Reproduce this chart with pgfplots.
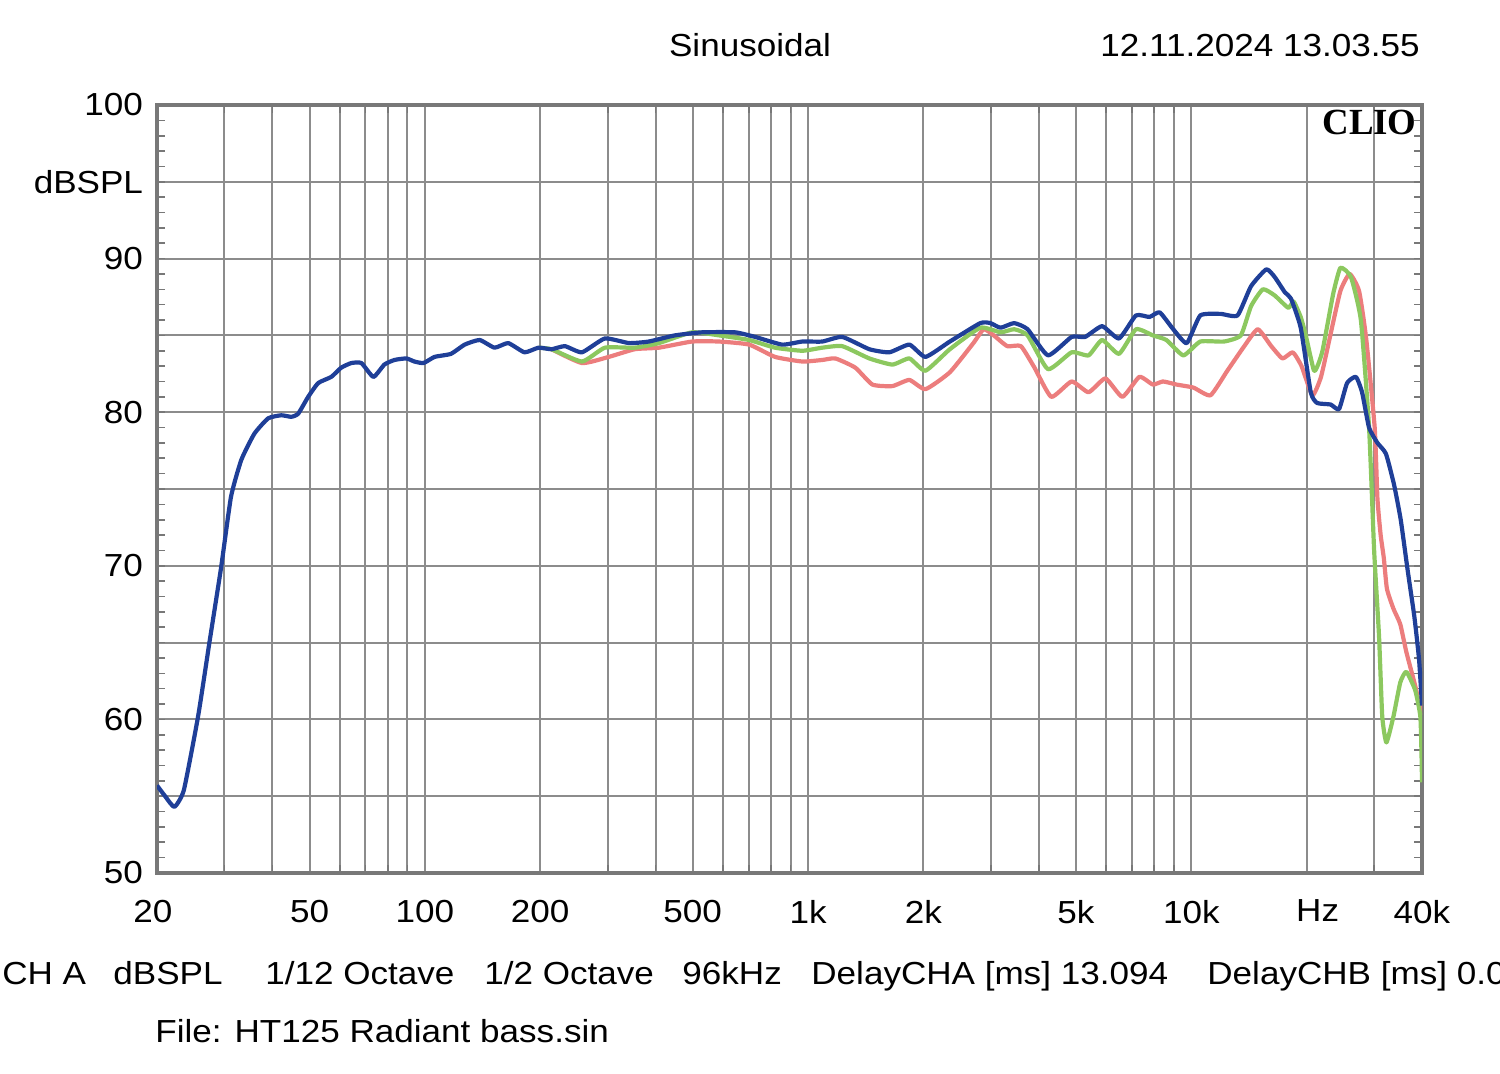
\documentclass[border=0pt]{standalone}
\usepackage{fontspec}
\setmainfont{Liberation Sans}[FakeStretch=1.1]
\newfontfamily\cliofont{Liberation Serif}
\usepackage{pgfplots}
\pgfplotsset{compat=1.18}
\definecolor{cblue}{RGB}{31,63,152}
\definecolor{cgreen}{RGB}{140,200,95}
\definecolor{cred}{RGB}{236,125,125}
\definecolor{cgrid}{RGB}{140,140,140}
\definecolor{cframe}{RGB}{120,120,120}
\begin{document}
\fontsize{16}{19}\selectfont
\begin{tikzpicture}
\useasboundingbox (-78.5bp,-100.5bp) rectangle (671.5bp,436.5bp);
\begin{axis}[
  at={(0,0)}, anchor=south west,
  width=632.5bp, height=384bp, scale only axis,
  xmode=log, xmin=20, xmax=40000, ymin=50, ymax=100,
  xtick={20,50,100,200,500,1000,2000,5000,10000,20000,40000},
  xticklabels={\hspace*{-4bp}20,50,100,200,500,1k,2k,5k,10k,\hspace*{11bp}Hz,40k},
  minor xtick={30,40,60,70,80,90,300,400,600,700,800,900,3000,4000,6000,7000,8000,9000,30000},
  ytick={50,55,...,100},
  yticklabels={50,,60,,70,,80,,90,dBSPL,100},
  minor ytick={51,52,...,99},
  xmajorgrids, xminorgrids, ymajorgrids,
  grid style={cgrid, line width=1bp},
  minor grid style={cgrid, line width=1bp},
  axis line style={cframe, line width=2bp},
  tick align=inside, ytick pos=both, yticklabel pos=left, xticklabel pos=bottom,
  major tick length=0pt, minor tick length=4bp,
  every tick/.style={cframe, line width=0.8bp},
  xticklabel style={yshift=-8bp},
  yticklabel style={xshift=-1.5bp},
  /pgf/number format/assume math mode=true,
  every axis plot/.append style={line width=2.1bp, line join=round, no markers, smooth, tension=0.3},
]
\addplot[cred] coordinates {
(214,84.1)(257,83.2)(302,83.6)(353,84.1)(408,84.2)(498,84.6)(586,84.6)(702,84.4)
(820,83.6)(966,83.3)(1089,83.4)(1178,83.5)(1328,82.9)(1472,81.8)(1660,81.7)(1838,82.1)
(2024,81.5)(2344,82.6)(2700,84.5)(2872,85.4)(3052,85.0)(3310,84.3)(3592,84.3)(3898,82.9)
(4312,81.0)(4872,82.0)(5394,81.3)(5970,82.2)(6610,81.0)(7320,82.3)(7938,81.8)(8436,82.0)
(9150,81.8)(10130,81.6)(11220,81.1)(12418,82.7)(13748,84.3)(14912,85.4)(16170,84.3)
(17300,83.5)(18400,83.9)(19400,83.0)(20700,81.1)(21800,82.3)(23100,85.1)(24500,87.9)
(25900,89.0)(27400,87.9)(28600,84.8)(30100,79.0)(30600,74.4)(31200,72.0)(31800,70.5)
(32400,68.5)(33700,67.2)(35100,66.2)(36400,64.4)(38300,62.3)(40000,60.3)
};
\addplot[cgreen] coordinates {
(198,84.2)(214,84.1)(257,83.3)(295,84.2)(353,84.2)(408,84.5)(498,85.2)(586,85.0)
(702,84.7)(820,84.2)(966,84.0)(1089,84.2)(1228,84.3)(1445,83.5)(1660,83.1)(1838,83.5)
(2024,82.7)(2344,84.1)(2814,85.5)(3180,85.2)(3449,85.4)(3740,85.0)(4227,82.8)(4872,83.9)
(5394,83.7)(5852,84.7)(6478,83.8)(7172,85.4)(7938,85.0)(8610,84.7)(9536,83.7)(10556,84.6)
(12172,84.6)(13464,85.0)(14318,86.9)(15376,88.0)(16506,87.6)(17906,86.8)(18500,87.2)
(19300,86.2)(19900,85.0)(20900,82.7)(21500,83.2)(22000,84.0)(22700,85.8)(23500,87.8)
(24500,89.4)(26100,88.8)(27700,86.0)(29100,79.0)(30000,71.0)(30900,65.4)(31500,60.2)
(32300,58.5)(33700,60.2)(35100,62.4)(36400,63.1)(38400,61.9)(39600,60.2)(39900,57.6)(40000,55.9)
};
\addplot[cblue] coordinates {
(20,55.7)(21,55.0)(22.2,54.3)(23.5,55.4)(25.6,60.2)(27.4,65.0)(29.4,69.9)(31.2,74.5)
(33.2,76.9)(35.9,78.6)(39.0,79.6)(42.2,79.8)(44.8,79.7)(46.7,79.9)(49.6,81.0)(52.7,81.9)
(57.0,82.3)(60.5,82.9)(64.3,83.2)(68.3,83.2)(73.4,82.3)(78.4,83.1)(83.3,83.4)(89.5,83.5)
(93.9,83.3)(99.2,83.2)(106,83.6)(117,83.8)(127,84.4)(139,84.7)(152,84.2)(165,84.5)
(182,83.9)(198,84.2)(214,84.1)(232,84.3)(257,83.9)(295,84.8)(341,84.5)(384,84.6)
(449,85.0)(529,85.2)(645,85.2)(728,84.9)(856,84.4)(966,84.6)(1089,84.6)(1228,84.9)
(1445,84.1)(1630,83.9)(1838,84.4)(2024,83.6)(2344,84.6)(2814,85.8)(2990,85.8)(3180,85.5)
(3449,85.8)(3740,85.4)(4227,83.7)(4872,84.9)(5284,84.9)(5852,85.6)(6478,84.8)(7172,86.3)
(7778,86.2)(8271,86.5)(8973,85.4)(9732,84.5)(10556,86.3)(11926,86.4)(13200,86.3)(14318,88.2)
(15692,89.3)(16506,88.8)(17552,87.8)(18200,87.4)(19300,85.5)(20500,81.3)(21300,80.6)
(23100,80.5)(24300,80.2)(25500,81.9)(26900,82.3)(27900,81.3)(29100,79.0)(30600,78.0)
(32200,77.3)(33800,75.3)(35200,73.0)(36700,69.7)(38200,66.7)(39300,63.9)(40000,60.9)
};
\end{axis}
\node[anchor=base, inner sep=0] at (296.5bp,408bp) {Sinusoidal};
\node[anchor=base east, inner sep=0] at (631.5bp,408bp) {12.11.2024 13.03.55};
\node[anchor=base east, inner sep=0] at (630bp,369bp) {\cliofont\bfseries\fontsize{18.5}{20}\selectfont CLIO};
\node[anchor=base west, inner sep=0] at (-77.5bp,-55.5bp) {CH A};
\node[anchor=base west, inner sep=0] at (-22bp,-55.5bp) {dBSPL};
\node[anchor=base west, inner sep=0] at (54bp,-55.5bp) {1/12 Octave};
\node[anchor=base west, inner sep=0] at (163.5bp,-55.5bp) {1/2 Octave};
\node[anchor=base west, inner sep=0] at (262.5bp,-55.5bp) {96kHz};
\node[anchor=base west, inner sep=0] at (327bp,-55.5bp) {DelayCHA [ms] 13.094};
\node[anchor=base west, inner sep=0] at (525bp,-55.5bp) {DelayCHB [ms] 0.0};
\node[anchor=base west, inner sep=0] at (-1bp,-84.5bp) {File: HT125 Radiant bass.sin};
\end{tikzpicture}
\end{document}
